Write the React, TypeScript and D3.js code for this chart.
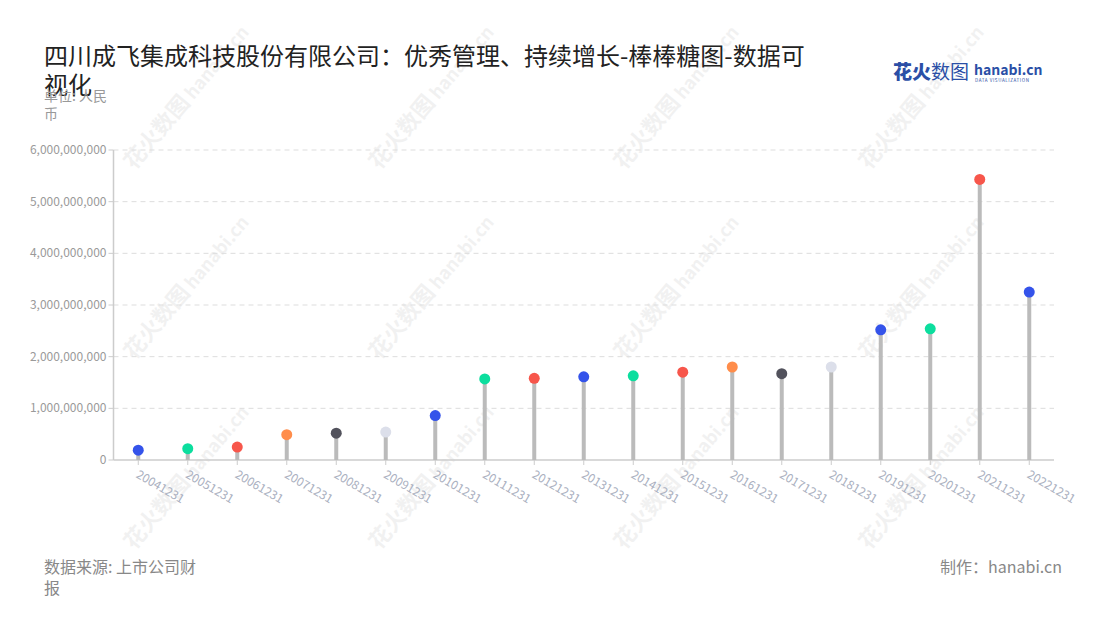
import React from "react";
import * as d3 from "d3";

const categories = ["20041231","20051231","20061231","20071231","20081231","20091231","20101231","20111231","20121231","20131231","20141231","20151231","20161231","20171231","20181231","20191231","20201231","20211231","20221231"];
const values = [0.19e9,0.22e9,0.25e9,0.49e9,0.52e9,0.54e9,0.86e9,1.57e9,1.58e9,1.61e9,1.63e9,1.70e9,1.80e9,1.67e9,1.80e9,2.52e9,2.54e9,5.43e9,3.25e9];
const yTicks = [0,1e9,2e9,3e9,4e9,5e9,6e9];
const palette = ["#3453EA","#0CDE9E","#F7564B","#FF8D4B","#52525C","#DCDFEA"];
const colorIndex = [0,1,2,3,4,5,0,1,2,0,1,2,3,4,5,0,1,2,0];

const W = 1100, H = 620;
const left = 113.5, right = 1054, top = 150, bottom = 460;
const font = "'Noto Sans CJK SC', 'Noto Sans', sans-serif";

export default function App() {
  const x = d3.scaleBand<string>().domain(categories).range([left, right]).padding(0);
  const y = d3.scaleLinear().domain([0, 6e9]).range([bottom, top]);
  const fmt = d3.format(",");
  const wm: [number, number][] = [];
  for (const cx of [160, 405, 650, 895]) for (const cy of [140, 330, 520]) wm.push([cx, cy]);
  return (
    <svg width={W} height={H} style={{ position: "absolute", left: 0, top: 0, fontFamily: font }}>
      <rect width={W} height={H} fill="#fff" />
      {/* watermarks */}
      {wm.map(([cx, cy], i) => (
        <g key={"wm" + i} transform={`translate(${cx},${cy}) rotate(-50)`} opacity={0.05}>
          <text x={-40} y={0} fontSize={22} fontWeight={700} fill="#000">花火数图</text>
          <text x={52} y={0} fontSize={18} fontWeight={700} fill="#000">hanabi.cn</text>
        </g>
      ))}
      {/* title */}
      <text x={44} y={65} fontSize={24} fill="#222">四川成飞集成科技股份有限公司：优秀管理、持续增长-棒棒糖图-数据可</text>
      <text x={44} y={94} fontSize={24} fill="#222">视化</text>
      <text x={44} y={101} fontSize={14} fill="#999">单位: 人民</text>
      <text x={44} y={119} fontSize={14} fill="#999">币</text>
      {/* logo */}
      <text x={893} y={79} fontSize={19} fontWeight={900} fill="#2B4FA6">花火<tspan fontWeight={400}>数图</tspan></text>
      <text x={974} y={75} fontSize={14} fontWeight={700} fill="#2B4FA6">hanabi.cn</text>
      <text x={975} y={82} fontSize={4.5} fill="#2B4FA6" letterSpacing={0.6}>DATA VISUALIZATION</text>
      {/* grid */}
      {yTicks.map((t) => (
        <g key={"g" + t}>
          {t > 0 && <line x1={left} x2={right} y1={y(t)} y2={y(t)} stroke="#ddd" strokeDasharray="5,4" />}
          <line x1={left - 5} x2={left} y1={y(t)} y2={y(t)} stroke="#ccc" />
          <text x={left - 7} y={y(t) + 4} fontSize={12} fill="#9a9a9a" textAnchor="end">{fmt(t)}</text>
        </g>
      ))}
      <line x1={left} x2={left} y1={top} y2={bottom} stroke="#ccc" strokeWidth={1.5} />
      <line x1={left} x2={right} y1={bottom} y2={bottom} stroke="#ccc" strokeWidth={1.5} />
      {categories.map((c, i) => {
        const cx = x(c)! + x.bandwidth() / 2;
        return (
          <g key={c}>
            <line x1={cx} x2={cx} y1={bottom} y2={bottom + 5} stroke="#ccc" />
            <line x1={cx} x2={cx} y1={bottom} y2={y(values[i])} stroke="#bbb" strokeWidth={4} />
            <circle cx={cx} cy={y(values[i])} r={5.5} fill={palette[colorIndex[i]]} />
            <text transform={`translate(${cx - 3},${bottom + 17}) rotate(30)`} fontSize={12} fill="#aab0c0">{c}</text>
          </g>
        );
      })}
      {/* footer */}
      <text x={44} y={573} fontSize={16} fill="#888">数据来源: 上市公司财</text>
      <text x={44} y={594} fontSize={16} fill="#888">报</text>
      <text x={1062} y={573} fontSize={16} fill="#888" textAnchor="end">制作：hanabi.cn</text>
    </svg>
  );
}
